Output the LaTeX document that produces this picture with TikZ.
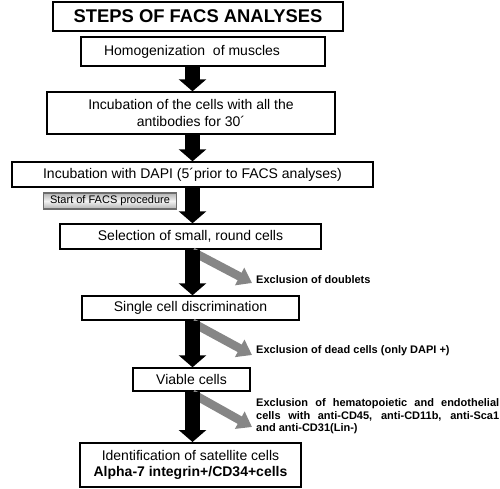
\documentclass[tikz,border=0pt]{standalone}
\usepackage{fontspec}
\setmainfont{Liberation Sans}
\usetikzlibrary{arrows.meta,calc}
\tikzset{
  box/.style={draw=black,line width=1.4pt,fill=white,inner sep=0pt,align=center,font=\fontsize{14}{17}\selectfont},
  titlebox/.style={box,font=\fontsize{18.4}{20}\selectfont\bfseries},
  startbox/.style={draw=gray!85!black,line width=1.2pt,inner sep=0pt,top color=gray!60,bottom color=gray!60,middle color=gray!10,font=\fontsize{11}{12}\selectfont},
  lab/.style={inner sep=0pt,anchor=west,align=left,font=\fontsize{11}{12.5}\selectfont\bfseries},
  blackarrow/.style={line width=15pt,black,-{Triangle[length=12pt,width=27pt]}},
  grayarrow/.style={line width=8.5pt,gray!95,-{Triangle[length=14pt,width=19pt]}},
}
\begin{document}
\begin{tikzpicture}[x=1pt,y=-1pt]
\useasboundingbox (0,0) rectangle (500,489);
\coordinate (ax) at (192.5,0);
\node[titlebox,minimum width=290pt,minimum height=29pt] (t) at (198,16.5) {STEPS OF FACS ANALYSES};
\node[box,minimum width=244pt,minimum height=29pt] (b1) at (203,51.5) {\hspace*{-22pt}\raisebox{2pt}{Homogenization\ \ of muscles}};
\node[box,minimum width=288pt,minimum height=42pt] (b2) at (191,113) {Incubation of the cells with all the\\antibodies for 30´};
\node[box,minimum width=361pt,minimum height=25pt] (b3) at (192.5,174.5) {\raisebox{-3pt}{Incubation with DAPI (5´prior to FACS analyses)}};
\node[startbox,minimum width=133pt,minimum height=16pt] (s) at (110,201) {Start of FACS procedure};
\node[box,minimum width=261pt,minimum height=25pt] (b4) at (190.5,236.5) {Selection of small, round cells};
\node[box,minimum width=217pt,minimum height=24pt] (b5) at (190.5,308) {Single cell discrimination};
\node[box,minimum width=117pt,minimum height=23pt] (b6) at (191.5,379.5) {Viable cells};
\node[box,line width=2pt,minimum width=221pt,minimum height=44pt,font=\fontsize{14}{15.5}\selectfont] (b7) at (190.5,465) {Identification of satellite cells\\\textbf{Alpha-7 integrin+/CD34+cells}};
\node[lab] (l1) at (256,280) {Exclusion of doublets};
\node[lab] (l2) at (256,351) {Exclusion of dead cells (only DAPI +)};
\node[lab] (l3) at (256,416.5) {\makebox[243pt][s]{Exclusion of hematopoietic and endothelial}\\\makebox[243pt][s]{cells with anti-CD45, anti-CD11b, anti-Sca1}\\and anti-CD31(Lin-)};
% gray exclusion arrows
\draw[grayarrow] ($(b4.south -| ax)+(0,2)$) -- ($(l1.west)+(-4,3)$);
\draw[grayarrow] ($(b5.south -| ax)+(0,2)$) -- ($(l2.west)+(-4,4)$);
\draw[grayarrow] ($(b6.south -| ax)+(0,2)$) -- ($(l3.west)+(-4,10.5)$);
% black flow arrows
\draw[blackarrow] (b1.south -| ax) -- (b2.north -| ax);
\draw[blackarrow] (b2.south -| ax) -- (b3.north -| ax);
\draw[blackarrow] (b3.south -| ax) -- (b4.north -| ax);
\draw[blackarrow] (b4.south -| ax) -- (b5.north -| ax);
\draw[blackarrow] (b5.south -| ax) -- (b6.north -| ax);
\draw[blackarrow] (b6.south -| ax) -- (b7.north -| ax);
\end{tikzpicture}
\end{document}
